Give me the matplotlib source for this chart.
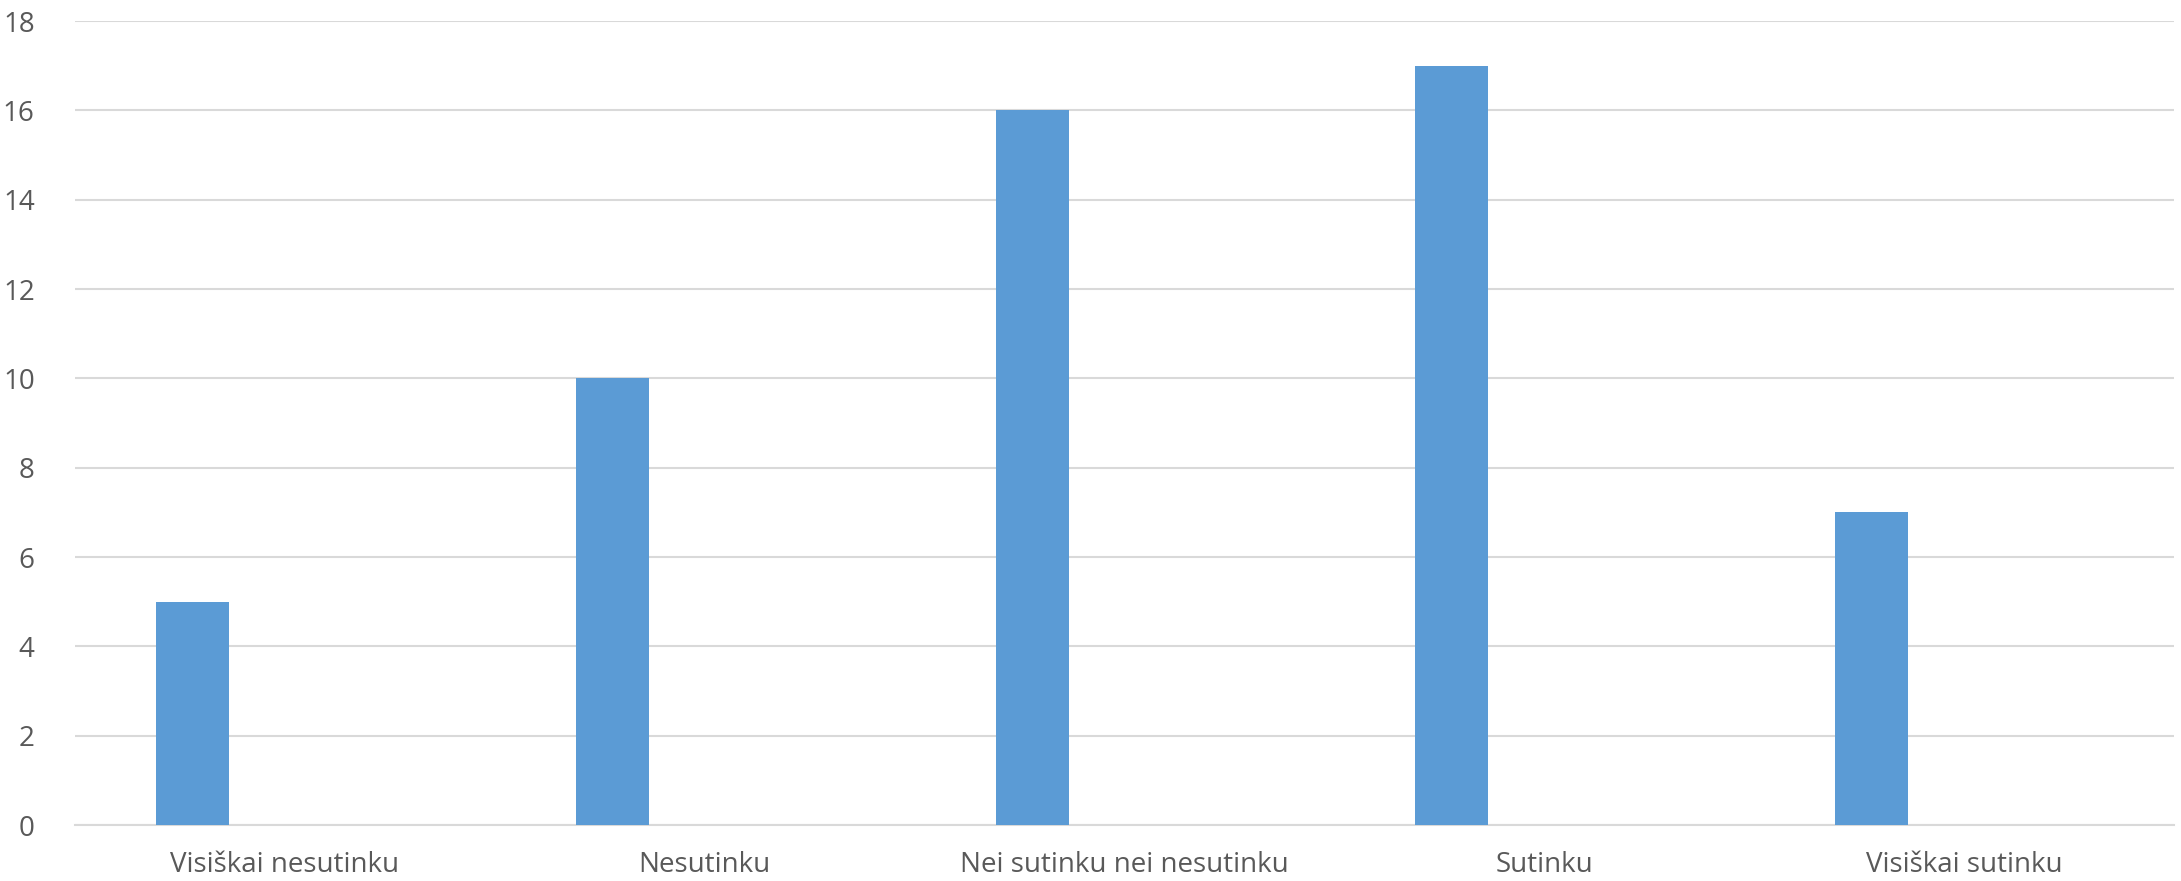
import numpy as np
import matplotlib.pyplot as plt

# atsakymu kategorijos ir ju skaiciai
categories = ["Visiškai nesutinku", "Nesutinku", "Nei sutinku nei nesutinku", "Sutinku", "Visiškai sutinku"]
counts = [5, 10, 16, 17, 7]
yticks = [0, 2, 4, 6, 8, 10, 12, 14, 16, 18]

plt.rcParams['font.family'] = ['Open Sans', 'DejaVu Sans']

fig = plt.figure(figsize=(21.81, 8.81), dpi=100)
ax = fig.add_axes([75 / 2181, 56 / 881, (2174 - 75) / 2181, (825 - 21) / 881])

x = np.arange(len(categories))
# stulpeliai pasislinke i kaire kiekvienoje kategorijoje
ax.bar(x - 0.22, counts, width=0.174, color='#5b9bd5', zorder=3)

ax.set_xlim(-0.5, len(categories) - 0.5)
ax.set_ylim(0, 18)
ax.set_yticks(yticks)
ax.set_xticks(x)
ax.set_xticklabels(categories)

ax.grid(axis='y', color='#d9d9d9', linewidth=1.5, zorder=0)
for s in ['top', 'right', 'left']:
    ax.spines[s].set_visible(False)
ax.spines['bottom'].set_color('#d9d9d9')
ax.spines['bottom'].set_linewidth(1.5)

ax.tick_params(axis='both', length=0, labelsize=20, colors='#595959')
ax.tick_params(axis='y', pad=29)
ax.tick_params(axis='x', pad=19)

fig.savefig('out.png', dpi=100)
